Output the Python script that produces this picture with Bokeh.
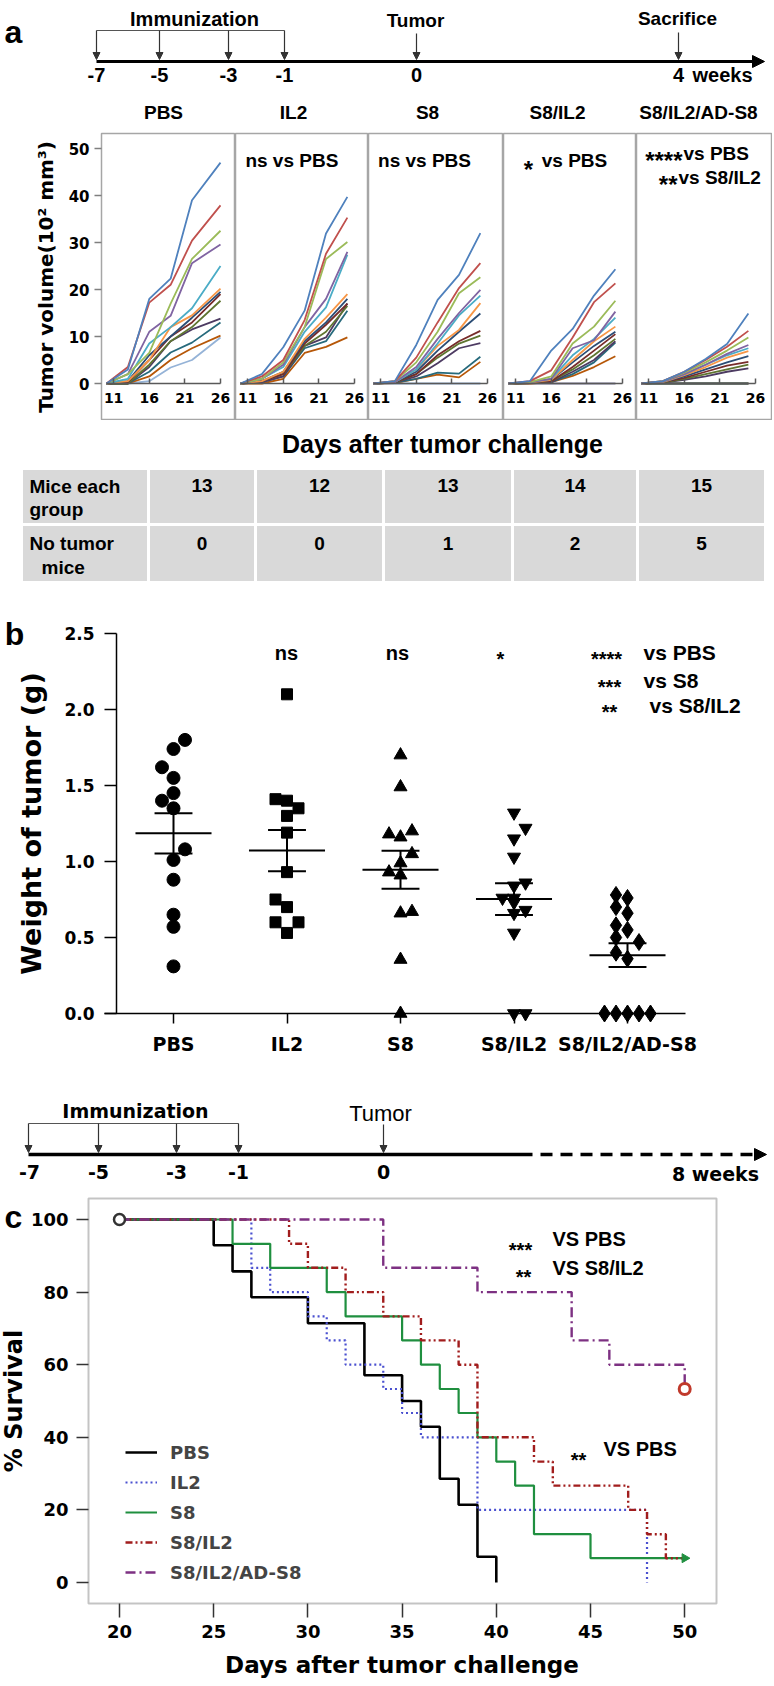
import numpy as np
from bokeh.plotting import figure
from bokeh.layouts import column, row
from bokeh.models import (Range1d, FixedTicker, LinearAxis, Legend, LegendItem,
                          Arrow, NormalHead, BoxAnnotation, NumeralTickFormatter)
from bokeh.core.properties import value
from bokeh.embed import file_html
from bokeh.resources import INLINE

# ============================ DATA ============================
groups = ["PBS", "IL2", "S8", "S8/IL2", "S8/IL2/AD-S8"]

timeline_a_labels = ["-7", "-5", "-3", "-1", "0", "4"]
timeline_c_labels = ["-7", "-5", "-3", "-1", "0"]

# panel a: tumour volume (10^2 mm^3) of each mouse on measurement days
days_pbs = [10, 13, 16, 19, 22, 26]
days_other = [10, 13, 16, 19, 22, 25]
vol_pbs = [
    [0, 3.0, 18.0, 22.3, 39.0, 47.0],
    [0, 3.5, 17.2, 21.0, 30.4, 37.9],
    [0, 2.0, 6.5, 17.0, 26.5, 32.5],
    [0, 2.0, 11.0, 14.4, 25.6, 29.6],
    [0, 1.0, 8.5, 12.0, 16.0, 25.0],
    [0, 0.5, 5.0, 12.0, 14.5, 20.2],
    [0, 0.5, 6.0, 10.0, 14.0, 19.5],
    [0, 0.3, 5.0, 10.0, 13.0, 19.0],
    [0, 0.0, 4.0, 9.0, 12.0, 17.6],
    [0, 0.0, 3.5, 9.0, 11.5, 13.8],
    [0, 0.0, 2.5, 6.6, 8.7, 13.0],
    [0, 0.0, 1.5, 5.0, 7.5, 10.2],
    [0, 0.0, 0.5, 3.4, 5.0, 9.8],
]
vol_il2 = [
    [0, 2.0, 7.7, 15.5, 31.9, 39.7],
    [0, 1.5, 5.0, 13.5, 27.6, 35.3],
    [0, 1.0, 4.5, 12.0, 26.5, 30.1],
    [0, 1.0, 4.0, 12.0, 18.0, 28.0],
    [0, 1.0, 3.5, 11.0, 16.2, 27.4],
    [0, 0.5, 2.5, 9.5, 14.0, 19.0],
    [0, 0.5, 2.5, 9.0, 13.0, 18.0],
    [0, 0.5, 2.0, 8.5, 12.5, 17.0],
    [0, 0.5, 2.0, 8.0, 11.0, 16.5],
    [0, 0.3, 1.5, 8.0, 9.8, 17.0],
    [0, 0.3, 1.5, 7.5, 9.0, 15.5],
    [0, 0.0, 1.0, 6.5, 7.8, 9.8],
]
vol_s8 = [
    [0, 0.5, 8.2, 17.8, 23.1, 32.0],
    [0, 0.5, 5.5, 13.0, 20.3, 25.6],
    [0, 0.5, 4.5, 11.0, 19.2, 22.6],
    [0, 0.3, 3.5, 9.5, 15.0, 19.9],
    [0, 0.3, 3.0, 8.5, 14.5, 18.7],
    [0, 0.3, 3.0, 8.0, 11.4, 17.1],
    [0, 0.3, 2.5, 7.0, 11.0, 14.9],
    [0, 0.3, 2.0, 6.0, 9.0, 11.2],
    [0, 0.2, 2.0, 5.5, 8.5, 10.2],
    [0, 0.2, 1.5, 4.3, 7.5, 8.6],
    [0, 0.2, 1.0, 2.3, 2.1, 5.7],
    [0, 0.1, 1.0, 1.9, 1.3, 4.6],
    [0, 0, 0, 0, 0, 0],
]
vol_s8il2 = [
    [0, 0.5, 7.0, 11.6, 18.7, 24.3],
    [0, 0.5, 2.8, 9.8, 17.3, 21.3],
    [0, 0.3, 1.5, 8.5, 12.1, 17.6],
    [0, 0.3, 1.0, 7.5, 9.2, 15.3],
    [0, 0.3, 1.0, 6.0, 9.5, 14.0],
    [0, 0.2, 0.8, 5.0, 9.0, 12.1],
    [0, 0.2, 0.8, 4.5, 8.0, 11.0],
    [0, 0.2, 0.5, 3.5, 7.0, 10.5],
    [0, 0.1, 0.5, 3.0, 6.0, 9.5],
    [0, 0.1, 0.3, 2.5, 5.0, 9.0],
    [0, 0.1, 0.3, 2.0, 4.5, 8.7],
    [0, 0.0, 0.3, 1.6, 3.5, 5.8],
    [0, 0, 0, 0, 0, 0],
    [0, 0, 0, 0, 0, 0],
]
vol_ad = [
    [0, 0.5, 2.5, 5.2, 8.4, 14.9],
    [0, 0.5, 2.5, 5.0, 7.8, 11.2],
    [0, 0.5, 2.3, 4.5, 7.0, 9.8],
    [0, 0.4, 2.0, 4.0, 6.3, 8.2],
    [0, 0.4, 2.0, 4.0, 6.0, 7.5],
    [0, 0.3, 1.8, 3.5, 5.5, 6.9],
    [0, 0.3, 1.5, 3.0, 4.5, 5.8],
    [0, 0.3, 1.2, 2.5, 3.8, 4.6],
    [0, 0.2, 1.0, 2.0, 3.0, 4.0],
    [0, 0.2, 0.8, 1.5, 2.5, 3.2],
    [0, 0, 0, 0, 0, 0],
    [0, 0, 0, 0, 0, 0],
    [0, 0, 0, 0, 0, 0],
    [0, 0, 0, 0, 0, 0],
    [0, 0, 0, 0, 0, 0],
]

# table under panel a
table_rows = [["Mice each", "group"], ["No tumor", "mice"]]
mice_each_group = [13, 12, 13, 14, 15]
no_tumor_mice = [0, 0, 1, 2, 5]

# panel b: tumour weight (g) per mouse and its horizontal slot in the scatter
w_pbs = [1.80, 1.74, 1.62, 1.55, 1.45, 1.40, 1.35, 1.08, 1.01, 0.88, 0.65, 0.57, 0.31]
s_pbs = [1, 0, -1, 0, 0, -1, 0, 1, 0, 0, 0, 0, 0]
w_il2 = [2.10, 1.41, 1.40, 1.35, 1.30, 1.19, 0.93, 0.75, 0.70, 0.60, 0.60, 0.53]
s_il2 = [0, -1, 0, 1, 0, 0, 0, -1, 0, -1, 1, 0]
w_s8 = [1.70, 1.49, 1.20, 1.18, 1.16, 1.05, 0.99, 0.93, 0.91, 0.67, 0.66, 0.355, 0.0]
s_s8 = [0, 0, 1, -1, 0, 1, 0, -1, 0, 1, 0, 0, 0]
w_s8il2 = [1.32, 1.22, 1.15, 1.03, 0.86, 0.84, 0.76, 0.76, 0.73, 0.68, 0.66, 0.53, 0.0, 0.0]
s_s8il2 = [0, 1, 0, 0, 1, 0, -1, 0, 0, 1, 0, 0, 0, 1]
w_ad = [0.78, 0.76, 0.70, 0.66, 0.58, 0.55, 0.50, 0.47, 0.40, 0.36, 0.0, 0.0, 0.0, 0.0, 0.0]
s_ad = [-1, 0, -1, 0, -1, 0, -1, 1, -1, 0, -2, -1, 0, 1, 2]

# panel c: Kaplan-Meier survival (%)
surv_pbs_days = [20, 25, 26, 27, 30, 33, 35, 36, 37, 38, 39, 40]
surv_pbs = [100, 92.9, 85.7, 78.6, 71.4, 57.1, 50.0, 42.9, 28.6, 21.4, 7.1, 0]
surv_il2_days = [20, 27, 28, 30, 31, 32, 34, 35, 36, 39, 48]
surv_il2 = [100, 86.7, 80.0, 73.3, 66.7, 60.0, 53.3, 46.7, 40.0, 20.0, 0]
surv_s8_days = [20, 26, 28, 31, 32, 35, 36, 37, 38, 39, 40, 41, 42, 45, 50]
surv_s8 = [100, 93.3, 86.7, 80.0, 73.3, 66.7, 60.0, 53.3, 46.7, 40.0, 33.3, 26.7, 13.3, 6.7, 6.7]
surv_s8il2_days = [20, 29, 30, 32, 34, 36, 38, 39, 42, 43, 47, 48, 49, 50]
surv_s8il2 = [100, 93.3, 86.7, 80.0, 73.3, 66.7, 60.0, 40.0, 33.3, 26.7, 20.0, 13.3, 6.7, 6.7]
surv_ad_days = [20, 34, 39, 44, 46, 50]
surv_ad = [100, 86.7, 80.0, 66.7, 60.0, 53.3]

# ============================ STYLE ============================
ARIAL = "Liberation Sans"
VERD = "DejaVu Sans"
PAL = ["#4F81BD", "#C0504D", "#9BBB59", "#8064A2", "#4BACC6", "#F79646",
       "#2C4D75", "#772C2A", "#5F7530", "#4D3B62", "#276A7C", "#B65708",
       "#95B3D7", "#D99694", "#C3D69B"]
PAGE_W = 772


def base_fig(width, height, xr, yr):
    p = figure(width=width, height=height, x_range=xr, y_range=yr,
               output_backend="svg", toolbar_location=None,
               x_axis_location=None, y_axis_location=None)
    p.min_border_left = p.min_border_right = p.min_border_top = p.min_border_bottom = 0
    p.grid.visible = False
    p.outline_line_color = None
    p.background_fill_color = "white"
    p.border_fill_color = "white"
    return p


def canvas(y0, y1):
    # pixel canvas in page pixel units
    return base_fig(PAGE_W, y1 - y0, Range1d(0, PAGE_W), Range1d(y1, y0))


def T(p, x, y, s, size, font=ARIAL, bold=True, align="center", baseline="middle",
      color="black", angle=0):
    p.text(x=[x], y=[y], text=[s], text_font=value(font),
           text_font_size=value(f"{size}px"),
           text_font_style="bold" if bold else "normal",
           text_align=align, text_baseline=baseline, text_color=color, angle=angle)


def arrow(p, x0, y0, x1, y1, w=1.2, head=7, color="#333333", dash="solid"):
    p.add_layout(Arrow(end=NormalHead(size=head, fill_color=color, line_color=color),
                       x_start=x0, y_start=y0, x_end=x1, y_end=y1,
                       line_color=color, line_width=w, line_dash=dash))


def style_axis(ax, size, font=VERD, tick_out=7, tick_in=0, standoff=6,
               line_color="black", tick_color="black"):
    ax.major_label_text_font = font
    ax.major_label_text_font_size = f"{size}px"
    ax.major_label_text_font_style = "bold"
    ax.major_label_text_color = "black"
    ax.major_tick_out = tick_out
    ax.major_tick_in = tick_in
    ax.minor_tick_line_color = None
    ax.major_label_standoff = standoff
    ax.axis_line_color = line_color
    ax.major_tick_line_color = tick_color
    ax.major_tick_line_width = 1.5
    ax.axis_line_width = 1.5


def style_label(ax, size, standoff, font=VERD):
    ax.axis_label_text_font = font
    ax.axis_label_text_font_size = f"{size}px"
    ax.axis_label_text_font_style = "bold"
    ax.axis_label_text_color = "black"
    ax.axis_label_standoff = standoff


# ============================ TOP: timeline a + titles ============================
TOP_H = 124
ft = canvas(0, TOP_H)
T(ft, 13, 31, "a", 32)
imm_x = [96, 159, 228, 284]
ft.line([imm_x[0], imm_x[-1]], [30, 30], line_color="#555555", line_width=1.2)
for x in imm_x:
    arrow(ft, x, 30, x, 59)
arrow(ft, 96, 61, 764, 61, w=3, head=12, color="black")
arrow(ft, 416, 33, 416, 59)
arrow(ft, 678, 32, 678, 59)
T(ft, 194, 18, "Immunization", 20)
T(ft, 415, 20, "Tumor", 19)
T(ft, 677, 18, "Sacrifice", 19)
tl_a_x = [96, 159, 228, 284, 416, 678]
for lab, x in zip(timeline_a_labels, tl_a_x):
    T(ft, x, 74, lab, 20)
T(ft, 722, 74, "weeks", 20)
title_x = [163, 293, 427, 557, 698]
for g, x in zip(groups, title_x):
    T(ft, x, 112, g, 19)

# ============================ PANEL a ============================
PX_DAY = 7.125
PX_VOL = 4.7
BASE_Y = 383
FR_TOP, FR_BOT = 133, 420
frames_a = [(101, 235), (235, 368), (368, 503), (503, 636), (636, 772)]
vols_a = [vol_pbs, vol_il2, vol_s8, vol_s8il2, vol_ad]
days_a = [days_pbs, days_other, days_other, days_other, days_other]
x_start = 10 - 5 / PX_DAY
ann_a = {
    1: [("ns  vs PBS", 294, 160, "center", 19)],
    2: [("ns vs PBS", 424, 160, "center", 19)],
    3: [("*", 528, 169, "center", 24), ("vs PBS", 574, 160, "center", 19)],
    4: [("****", 682, 160, "right", 24), ("vs PBS", 683, 153, "left", 19),
        ("**", 677, 184, "right", 24), ("vs S8/IL2", 678, 177, "left", 19)],
}
panels = []
for i, (L, R) in enumerate(frames_a):
    fw = R - L
    lb = L if i == 0 else 0
    p = base_fig(fw + lb, FR_BOT - TOP_H, Range1d(x_start, x_start + fw / PX_DAY),
                 Range1d((BASE_Y - FR_BOT) / PX_VOL, (BASE_Y - FR_TOP) / PX_VOL))
    p.min_border_left = lb
    p.min_border_top = FR_TOP - TOP_H
    p.outline_line_color = "#a6a6a6"
    p.outline_line_width = 1.5
    xa = LinearAxis(fixed_location=0, ticker=FixedTicker(ticks=[11, 16, 21, 26]), bounds=(10, 26))
    style_axis(xa, 14, tick_out=0, tick_in=5, standoff=9, line_color="#595959", tick_color="#595959")
    p.add_layout(xa, "below")
    if i == 0:
        ya = LinearAxis(ticker=FixedTicker(ticks=[0, 10, 20, 30, 40, 50]), bounds=(0, 50),
                        axis_label="Tumor volume(10\u00b2 mm\u00b3)")
        style_axis(ya, 15, tick_out=7, standoff=5, line_color=None, tick_color="#7f7f7f")
        style_label(ya, 20, 8)
        p.add_layout(ya, "left")
    vols = vols_a[i]
    n = len(vols)
    p.multi_line(xs=[days_a[i]] * n, ys=vols[::-1], line_color=PAL[:n][::-1], line_width=1.8)
    for (s, px, py, al, fs) in ann_a.get(i, []):
        T(p, x_start + (px - L) / PX_DAY, (BASE_Y - py) / PX_VOL, s, fs, align=al)
    panels.append(p)

# ============================ table ============================
fm = canvas(420, 600)
T(fm, 442, 443, "Days after tumor challenge", 25)
tcols = [21, 148, 255, 383, 512, 637, 765]
trows = [468, 524, 582]
lefts, rights, tops, bots = [], [], [], []
for r in range(2):
    for c in range(6):
        lefts.append(tcols[c]); rights.append(tcols[c + 1])
        tops.append(trows[r]); bots.append(trows[r + 1])
fm.quad(left=lefts, right=rights, top=tops, bottom=bots, fill_color="#d9d9d9",
        line_color="white", line_width=3)
T(fm, 29, 486, table_rows[0][0], 19, align="left")
T(fm, 29, 509, table_rows[0][1], 19, align="left")
T(fm, 29, 543, table_rows[1][0], 19, align="left")
T(fm, 41, 567, table_rows[1][1], 19, align="left")
for c in range(5):
    cx_ = (tcols[c + 1] + tcols[c + 2]) / 2
    T(fm, cx_, 485, str(mice_each_group[c]), 19)
    T(fm, cx_, 543, str(no_tumor_mice[c]), 19)

# ============================ PANEL b ============================
PXB, B_CX, B_Y0, PXB_Y = 113.5, 173, 1013, 152
bx = lambda px: 1 + (px - B_CX) / PXB
by = lambda py: (B_Y0 - py) / PXB_Y
pb = base_fig(PAGE_W, 475, Range1d(bx(0), bx(PAGE_W)), Range1d(by(1075), by(600)))
yb = LinearAxis(fixed_location=bx(116), bounds=(0, 2.5),
                ticker=FixedTicker(ticks=[0, 0.5, 1.0, 1.5, 2.0, 2.5]),
                formatter=NumeralTickFormatter(format="0.0"), axis_label="Weight of tumor (g)")
style_axis(yb, 17, tick_out=12, standoff=10, line_color="black")
style_label(yb, 27, 14)
pb.add_layout(yb, "left")
xb = LinearAxis(fixed_location=0, bounds=(bx(104), bx(685)),
                ticker=FixedTicker(ticks=[1, 2, 3, 4, 5]),
                major_label_overrides={k + 1: g for k, g in enumerate(groups)})
style_axis(xb, 19, tick_out=10, standoff=9, line_color="black")
pb.add_layout(xb, "below")

SLOT = 11.5 / PXB
wts = [w_pbs, w_il2, w_s8, w_s8il2, w_ad]
slots = [s_pbs, s_il2, s_s8, s_s8il2, s_ad]
markers = ["circle", "square", "triangle", "inverted_triangle", "diamond"]
msize = [13, 11, 13, 13, 17]
for k in range(5):
    c = k + 1
    vals = np.array(wts[k])
    pb.scatter(x=[c + s * SLOT for s in slots[k]], y=list(vals), marker=markers[k],
               size=msize[k], color="black")
    m = vals.mean()
    sem = vals.std(ddof=1) / np.sqrt(len(vals))
    pb.segment(x0=[c - 0.335], x1=[c + 0.335], y0=[m], y1=[m], line_color="black", line_width=2)
    pb.segment(x0=[c - 0.167] * 2, x1=[c + 0.167] * 2, y0=[m - sem, m + sem],
               y1=[m - sem, m + sem], line_color="black", line_width=2)
    pb.segment(x0=[c], x1=[c], y0=[m - sem], y1=[m + sem], line_color="black", line_width=2)

T(pb, bx(14), by(633), "b", 32)
T(pb, bx(286), by(652), "ns", 20)
T(pb, bx(397), by(652), "ns", 20)
T(pb, bx(500), by(658), "*", 20)
T(pb, bx(606), by(658), "****", 20)
T(pb, bx(643), by(652), "vs PBS", 21, align="left")
T(pb, bx(609), by(686), "***", 20)
T(pb, bx(643), by(680), "vs S8", 21, align="left")
T(pb, bx(609), by(711), "**", 20)
T(pb, bx(649), by(705), "vs S8/IL2", 21, align="left")

# ============================ timeline c ============================
f2 = canvas(1075, 1190)
imm2 = [28, 98, 176, 238]
f2.line([imm2[0], imm2[-1]], [1123, 1123], line_color="#555555", line_width=1.2)
for x in imm2:
    arrow(f2, x, 1123, x, 1152)
arrow(f2, 383, 1124, 383, 1152)
f2.line([28, 532], [1154, 1154], line_color="black", line_width=3.5)
arrow(f2, 540, 1154, 766, 1154, w=3.5, head=12, color="black", dash="12 8")
T(f2, 135, 1110, "Immunization", 19, font=VERD)
T(f2, 380, 1113, "Tumor", 22, bold=False)
tl_c_x = [29, 98, 176, 238, 383]
for lab, x in zip(timeline_c_labels, tl_c_x):
    T(f2, x, 1171, lab, 19, font=VERD)
T(f2, 715, 1173, "8 weeks", 19, font=VERD)

# ============================ PANEL c ============================
cx = lambda px: 20 + (px - 119) / 18.84
cy = lambda py: (1582 - py) / 3.63
pc = base_fig(PAGE_W, 494, Range1d(cx(0), cx(PAGE_W)), Range1d(cy(1684), cy(1190)))
pc.add_layout(BoxAnnotation(left=cx(88), right=cx(716), top=cy(1198), bottom=cy(1603),
                            fill_color=None, fill_alpha=0, line_color="#3c3c3c",
                            line_width=2))
yc = LinearAxis(fixed_location=cx(88), bounds=(0, 100),
                ticker=FixedTicker(ticks=[0, 20, 40, 60, 80, 100]), axis_label="% Survival")
style_axis(yc, 18, tick_out=12, standoff=8, line_color=None, tick_color="#333333")
style_label(yc, 24, 0)
pc.add_layout(yc, "left")
xc = LinearAxis(fixed_location=cy(1603), bounds=(20, 50),
                ticker=FixedTicker(ticks=[20, 25, 30, 35, 40, 45, 50]),
                axis_label="Days after tumor challenge")
style_axis(xc, 18, tick_out=14, standoff=7, line_color=None, tick_color="#333333")
style_label(xc, 23, 11)
pc.add_layout(xc, "below")

curves = [
    (surv_pbs_days, surv_pbs, "black", 2.6, "solid"),
    (surv_il2_days, surv_il2, "#4a50d0", 2.2, "2 3"),
    (surv_s8_days, surv_s8, "#1f8f3f", 2.2, "solid"),
    (surv_s8il2_days, surv_s8il2, "#a11d1d", 2.4, "7 3 2 3 2 3"),
    (surv_ad_days, surv_ad, "#7d3182", 2.4, "10 4 2 4"),
]
rends = []
for d, s, col, w, dash in curves:
    rends.append(pc.step(x=d, y=s, mode="after", line_color=col, line_width=w, line_dash=dash))
pc.scatter(x=[surv_pbs_days[0]], y=[surv_pbs[0]], marker="circle", size=11,
           fill_color="white", line_color="#333333", line_width=2.5)
pc.scatter(x=[surv_ad_days[-1]], y=[surv_ad[-1]], marker="circle", size=11,
           fill_color="white", line_color="#c0392b", line_width=3)
pc.scatter(x=[surv_s8_days[-1]], y=[surv_s8[-1]], marker="triangle", size=9,
           angle=-np.pi / 2, color="#1f8f3f")

leg = Legend(items=[LegendItem(label=g, renderers=[r]) for g, r in zip(groups, rends)],
             location=(125, 99))
leg.label_text_font = VERD
leg.label_text_font_size = "18px"
leg.label_text_font_style = "bold"
leg.glyph_width = 32
leg.glyph_height = 26
leg.label_height = 26
leg.label_standoff = 13
leg.spacing = 4
leg.padding = 0
leg.margin = 0
leg.border_line_color = None
leg.background_fill_alpha = 0
pc.add_layout(leg)

T(pc, cx(13), cy(1216), "c", 32)
T(pc, cx(520), cy(1249), "***", 20)
T(pc, cx(552), cy(1238), "VS PBS", 20, align="left")
T(pc, cx(523), cy(1276), "**", 20)
T(pc, cx(552), cy(1267), "VS S8/IL2", 20, align="left")
T(pc, cx(578), cy(1459), "**", 20)
T(pc, cx(603), cy(1448), "VS PBS", 20, align="left")

layout = column(ft, row(*panels, spacing=0), fm, pb, f2, pc, spacing=0)
open("out.html", "w").write(file_html(layout, INLINE))
